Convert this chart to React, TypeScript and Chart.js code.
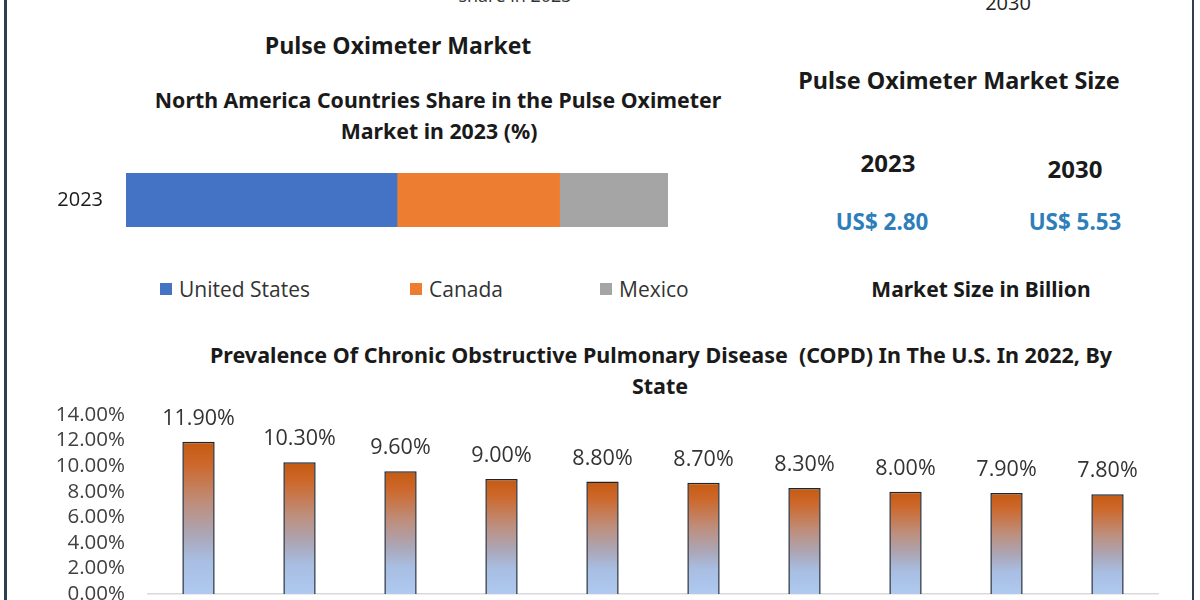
import React, { useEffect, useRef } from "react";
import { Chart, registerables } from "chart.js";

Chart.register(...registerables);

// ---------- data ----------
const shareYears = ["2023"];
const shareCountries = ["United States", "Canada", "Mexico"];
const shareValues = [50, 30, 20];
const shareColors = ["#4472C4", "#ED7D31", "#A5A5A5"];

const marketYears = ["2023", "2030"];
const marketSizes = ["US$ 2.80", "US$ 5.53"];

const copdStates = ["1", "2", "3", "4", "5", "6", "7", "8", "9", "10"];
const copdValues = [11.9, 10.3, 9.6, 9.0, 8.8, 8.7, 8.3, 8.0, 7.9, 7.8];
const copdTicks = [0, 2, 4, 6, 8, 10, 12, 14];

// ---------- layout ----------
const LEGEND_X = [160, 410, 600];
const SANS = "'Open Sans', sans-serif";
const BOLD = "'Noto Sans', sans-serif";

type TxtProps = {
  x: number;
  y: number;
  size: number;
  weight?: number;
  family?: string;
  color?: string;
  sx?: number;
  children: React.ReactNode;
};

function Txt({ x, y, size, weight = 400, family = SANS, color = "#1a1a1a", sx = 1, children }: TxtProps) {
  return (
    <div
      style={{
        position: "absolute",
        left: x,
        top: y,
        transform: `translate(-50%, -50%) scaleX(${sx})`,
        whiteSpace: "nowrap",
        fontFamily: family,
        fontSize: size,
        fontWeight: weight,
        color,
        lineHeight: 1,
      }}
    >
      {children}
    </div>
  );
}

function ShareChart() {
  const ref = useRef<HTMLCanvasElement>(null);
  useEffect(() => {
    const chart = new Chart(ref.current!, {
      type: "bar",
      data: {
        labels: shareYears,
        datasets: shareCountries.map((c, i) => ({
          label: c,
          data: [shareValues[i]],
          backgroundColor: shareColors[i],
          borderWidth: 0,
          barPercentage: 1,
          categoryPercentage: 1,
        })),
      },
      options: {
        indexAxis: "y",
        animation: false,
        responsive: false,
        maintainAspectRatio: false,
        layout: { padding: 0, autoPadding: false },
        plugins: { legend: { display: false }, tooltip: { enabled: false } },
        scales: {
          x: { stacked: true, min: 0, max: 100, display: false },
          y: {
            stacked: true,
            grid: { display: false, drawTicks: false },
            border: { display: false },
            ticks: { color: "#1a1a1a", padding: 23, font: { family: "Open Sans", size: 20 } },
            afterFit: (s: any) => {
              s.width = 106;
              s.paddingTop = 0;
              s.paddingBottom = 0;
            },
          },
        },
      },
    });
    return () => chart.destroy();
  }, []);
  return (
    <canvas
      ref={ref}
      width={648}
      height={54}
      style={{ position: "absolute", left: 20, top: 173, width: 648, height: 54 }}
    />
  );
}

const valueLabels = {
  id: "valueLabels",
  afterDatasetsDraw(chart: any) {
    const ctx = chart.ctx;
    const meta = chart.getDatasetMeta(0);
    ctx.save();
    ctx.font = "21.5px 'Open Sans'";
    ctx.fillStyle = "#333333";
    ctx.textAlign = "center";
    ctx.textBaseline = "middle";
    meta.data.forEach((bar: any, i: number) => {
      ctx.fillText(copdValues[i].toFixed(2) + "%", bar.x, bar.y - 23);
    });
    ctx.restore();
  },
};

function CopdChart() {
  const ref = useRef<HTMLCanvasElement>(null);
  useEffect(() => {
    const chart = new Chart(ref.current!, {
      type: "bar",
      data: {
        labels: copdStates,
        datasets: [
          {
            label: "COPD prevalence",
            data: copdValues,
            backgroundColor: (c: any) => {
              const ch = c.chart;
              const y = ch.scales?.y;
              if (!y || c.raw == null) return "#c8703a";
              const top = y.getPixelForValue(c.raw);
              const base = y.getPixelForValue(0);
              if (!isFinite(top) || !isFinite(base) || base <= top) return "#c8703a";
              const g = ch.ctx.createLinearGradient(0, top, 0, base);
              g.addColorStop(0, "#C55A11");
              g.addColorStop(0.14, "#CD6729");
              g.addColorStop(0.4, "#BE8E7B");
              g.addColorStop(0.62, "#ABA7B8");
              g.addColorStop(0.78, "#A8BEE2");
              g.addColorStop(1, "#AFC9F0");
              return g;
            },
            borderColor: "#1C2633",
            borderWidth: 1.5,
            borderSkipped: "bottom",
            barPercentage: 0.64,
            categoryPercentage: 0.5,
          },
        ],
      },
      options: {
        animation: false,
        responsive: false,
        maintainAspectRatio: false,
        layout: { padding: { top: 35, bottom: 6, right: 22, left: 0 }, autoPadding: false },
        plugins: { legend: { display: false }, tooltip: { enabled: false } },
        scales: {
          x: {
            grid: { display: false, drawTicks: false },
            ticks: { display: false },
            border: { display: true, color: "#D9D9D9", width: 1.5 },
            afterFit: (s: any) => {
              s.height = 0;
              s.paddingLeft = 0;
              s.paddingRight = 0;
            },
          },
          y: {
            min: 0,
            max: 14,
            grid: { display: false, drawTicks: false },
            border: { display: false },
            afterBuildTicks: (s: any) => {
              s.ticks = copdTicks.map((v) => ({ value: v }));
            },
            ticks: {
              color: "#404040",
              padding: 23,
              autoSkip: false,
              font: { family: "Open Sans", size: 20.5 },
              callback: (v: any) => Number(v).toFixed(2) + "%",
            },
            afterFit: (s: any) => {
              s.width = 128;
              s.paddingTop = 0;
              s.paddingBottom = 0;
            },
          },
        },
      },
      plugins: [valueLabels],
    });
    return () => chart.destroy();
  }, []);
  return (
    <canvas
      ref={ref}
      width={1160}
      height={220}
      style={{ position: "absolute", left: 20, top: 380, width: 1160, height: 220 }}
    />
  );
}

export default function App() {
  return (
    <div
      style={{
        position: "absolute",
        left: 0,
        top: 0,
        width: 1200,
        height: 600,
        overflow: "hidden",
        background: "#ffffff",
      }}
    >
      {/* frame lines */}
      <div style={{ position: "absolute", left: 4, top: 0, width: 2.5, height: 600, background: "#2E3F4F" }} />
      <div style={{ position: "absolute", left: 1192, top: 0, width: 2, height: 600, background: "#2E3F4F" }} />

      {/* clipped text from above */}
      <Txt x={515} y={-5} size={18} color="#333">share in 2023</Txt>
      <Txt x={1008} y={3} size={20} color="#222">2030</Txt>

      {/* left top block */}
      <Txt x={398} y={45} size={24} weight={700} sx={0.96}>Pulse Oximeter Market</Txt>
      <Txt x={438} y={100} size={21.3} weight={700} family={BOLD}>
        North America Countries Share in the Pulse Oximeter
      </Txt>
      <Txt x={439} y={131} size={21.3} weight={700} family={BOLD}>
        Market in 2023 (%)
      </Txt>
      <ShareChart />
      {shareCountries.map((c, i) => (
        <div
          key={c}
          style={{
            position: "absolute",
            left: LEGEND_X[i],
            top: 279,
            height: 20,
            display: "flex",
            alignItems: "center",
            whiteSpace: "nowrap",
            fontFamily: SANS,
            fontSize: 21,
            color: "#333",
          }}
        >
          <span style={{ display: "inline-block", width: 12, height: 12, background: shareColors[i], marginRight: 7 }} />
          <span style={{ lineHeight: 1 }}>{c}</span>
        </div>
      ))}

      {/* right block */}
      <Txt x={959} y={81} size={23.4} weight={700} family={BOLD}>Pulse Oximeter Market Size</Txt>
      <Txt x={888} y={163} size={24} weight={700} family={BOLD}>{marketYears[0]}</Txt>
      <Txt x={1075} y={169} size={24} weight={700} family={BOLD}>{marketYears[1]}</Txt>
      <Txt x={882} y={222} size={22.4} weight={700} family={BOLD} color="#2E7EBA">{marketSizes[0]}</Txt>
      <Txt x={1075} y={222} size={22.4} weight={700} family={BOLD} color="#2E7EBA">{marketSizes[1]}</Txt>
      <Txt x={981} y={289} size={21} weight={700} family={BOLD}>Market Size in Billion</Txt>

      {/* bottom chart */}
      <Txt x={661} y={355} size={21.5} weight={700} family={BOLD}>
        Prevalence Of Chronic Obstructive Pulmonary Disease&nbsp; (COPD) In The U.S. In 2022, By
      </Txt>
      <Txt x={660} y={386} size={21.5} weight={700} family={BOLD}>State</Txt>
      <CopdChart />
    </div>
  );
}
